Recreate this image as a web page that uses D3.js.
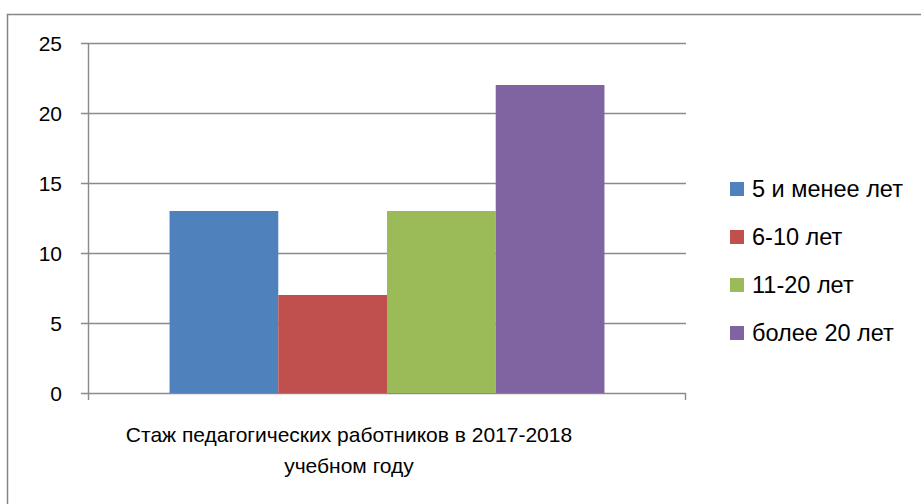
<!DOCTYPE html>
<html>
<head>
<meta charset="utf-8">
<script src="https://cdn.jsdelivr.net/npm/d3@7"></script>
<style>
  body { margin: 0; background: #fff; }
  svg text { font-family: "Liberation Sans", "DejaVu Sans", sans-serif; fill: #000; }
</style>
</head>
<body>
<div id="chart"></div>
<script>
	'use strict';

	// data
	var seriesNames = ["5 и менее лет", "6-10 лет", "11-20 лет", "более 20 лет"];
	var seriesValues = [13, 7, 13, 22];
	var seriesColors = ["#4F81BD", "#C0504D", "#9BBB59", "#8064A2"];
	var categoryLines = ["Стаж педагогических работников в 2017-2018", "учебном году"];
	var yTicks = [0, 5, 10, 15, 20, 25];

	var W = 921, H = 504;
	var margin = {left: 88, top: 43, right: 235, bottom: 111};
	var plotW = W - margin.left - margin.right;
	var plotH = H - margin.top - margin.bottom;

	var svg = d3.select("#chart")
		.append("svg")
		.attr("width", W)
		.attr("height", H);

	// outer frame (runs off the right and bottom edge)
	svg.append("rect")
		.attr("x", 7.5).attr("y", 14.5)
		.attr("width", W + 20).attr("height", H + 20)
		.attr("fill", "none")
		.attr("stroke", "#868686")
		.attr("stroke-width", 1.5);

	var g = svg.append("g")
		.attr("transform", "translate(" + margin.left + "," + margin.top + ")");

	var y = d3.scaleLinear().domain([0, 25]).range([plotH, 0]);

	// bars are grouped in the middle of the single category
	var x = d3.scaleBand()
		.domain(seriesNames)
		.range([0, plotW])
		.paddingInner(0)
		.paddingOuter(0.75);

	// gridlines
	g.selectAll("line.grid")
		.data(yTicks)
		.enter()
		.append("line")
		.attr("class", "grid")
		.attr("x1", -7)
		.attr("x2", plotW)
		.attr("y1", function(d){ return Math.round(y(d)) + 0.5; })
		.attr("y2", function(d){ return Math.round(y(d)) + 0.5; })
		.attr("stroke", "#8a8a8a")
		.attr("stroke-width", 1.4);

	// tick labels
	g.selectAll("text.ytick")
		.data(yTicks)
		.enter()
		.append("text")
		.attr("class", "ytick")
		.attr("x", -26)
		.attr("y", function(d){ return y(d); })
		.attr("dy", "0.36em")
		.attr("text-anchor", "end")
		.style("font-size", "21px")
		.text(function(d){ return d; });

	// bars
	g.selectAll("rect.bar")
		.data(seriesValues)
		.enter()
		.append("rect")
		.attr("class", "bar")
		.attr("x", function(d, i){ return x(seriesNames[i]); })
		.attr("width", x.bandwidth())
		.attr("y", function(d){ return y(d); })
		.attr("height", function(d){ return plotH - y(d); })
		.attr("fill", function(d, i){ return seriesColors[i]; });

	// axes lines
	g.append("line")
		.attr("x1", 0.5).attr("x2", 0.5)
		.attr("y1", 0).attr("y2", plotH + 7)
		.attr("stroke", "#8a8a8a").attr("stroke-width", 1.4);
	g.append("line")
		.attr("x1", plotW - 0.5).attr("x2", plotW - 0.5)
		.attr("y1", plotH).attr("y2", plotH + 7)
		.attr("stroke", "#8a8a8a").attr("stroke-width", 1.4);

	// category label
	var label = g.append("text")
		.attr("x", plotW / 2 - 38)
		.attr("y", plotH + 49)
		.attr("text-anchor", "middle")
		.style("font-size", "21px");
	label.selectAll("tspan")
		.data(categoryLines)
		.enter()
		.append("tspan")
		.attr("x", plotW / 2 - 38)
		.attr("dy", function(d, i){ return i === 0 ? 0 : 31; })
		.text(function(d){ return d; });

	// legend
	var legend = svg.append("g")
		.attr("transform", "translate(730,189)");
	var item = legend.selectAll("g")
		.data(seriesNames)
		.enter()
		.append("g")
		.attr("transform", function(d, i){ return "translate(0," + (i * 48) + ")"; });
	item.append("rect")
		.attr("x", 0).attr("y", -7)
		.attr("width", 14).attr("height", 14)
		.attr("fill", function(d, i){ return seriesColors[i]; });
	item.append("text")
		.attr("x", 22)
		.attr("y", 0)
		.attr("dy", "0.36em")
		.style("font-size", "23.5px")
		.text(function(d){ return d; });
</script>
</body>
</html>
